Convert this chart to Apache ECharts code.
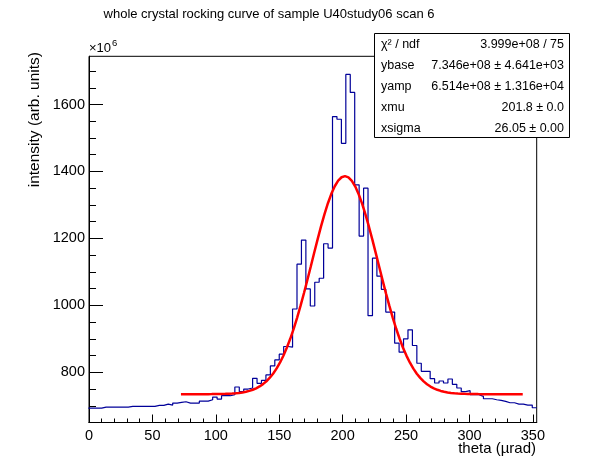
<!DOCTYPE html>
<html>
<head>
<meta charset="utf-8">
<script src="https://cdn.jsdelivr.net/npm/echarts@6/dist/echarts.min.js"></script>
<style>
  html, body { margin: 0; padding: 0; background: #fff; }
  #chart { width: 596px; height: 472px; }
</style>
</head>
<body>
<div id="chart"></div>
<script>
// histogram bins (intensity in units of 1e6), bin edges start at binStart, width binWidth
const binStart = -0.5;
const binWidth = 3.5;
const binValues = [
  693, 693, 693, 696, 696, 696, 696, 696, 696, 698,
  698, 698, 698, 698, 698, 701, 701, 705, 702, 708,
  710, 712, 708, 708, 708, 714, 714, 718, 726, 720,
  730, 730, 733, 756, 742, 750, 753, 782, 767, 776,
  792, 819, 837, 854, 877, 875, 989, 1123, 1195, 1049,
  998, 1069, 1081, 1184, 1171, 1564, 1556, 1484, 1690, 1636,
  1360, 1207, 1350, 969, 1141, 1087, 1048, 980, 980, 887,
  860, 900, 927, 880, 827, 803, 803, 781, 768, 774,
  768, 780, 764, 753, 742, 745, 733, 733, 728, 721,
  721, 718, 716, 713, 709, 709, 705, 705, 702, 702,
  694
];

// fit parameters (from stats box, intensity in 1e6)
const fitRange = [72.5, 342];
const ybase = 734.6;
const yamp = 651.4;
const xmu = 201.8;
const xsigma = 26.05;
const fitPoints = 100;

// ticks
const xMajorTicks = [0, 50, 100, 150, 200, 250, 300, 350];
const xMinorTicks = [10, 20, 30, 40, 60, 70, 80, 90, 110, 120, 130, 140, 160, 170, 180, 190,
  210, 220, 230, 240, 260, 270, 280, 290, 310, 320, 330, 340];
const yMajorTicks = [800, 1000, 1200, 1400, 1600];
const yMinorTicks = [650, 700, 750, 850, 900, 950, 1050, 1100, 1150, 1250, 1300, 1350,
  1450, 1500, 1550, 1650, 1700];

// stats box
const statNames = ['χ² / ndf', 'ybase', 'yamp', 'xmu', 'xsigma'];
const statValues = ['3.999e+08 / 75', '7.346e+08 ± 4.641e+03', '6.514e+08 ± 1.316e+04',
  '201.8 ± 0.0', '26.05 ± 0.00'];

const FONT = 'Liberation Sans, Arial, Helvetica, sans-serif';

let histData = binValues.map((v, i) => [binStart + i * binWidth, v]);
histData.push([binStart + binValues.length * binWidth, binValues[binValues.length - 1]]);

let fitData = [];
for (let k = 0; k <= fitPoints; k++) {
  let x = fitRange[0] + (fitRange[1] - fitRange[0]) * k / fitPoints;
  let t = (x - xmu) / xsigma;
  fitData.push([x, ybase + yamp * Math.exp(-0.5 * t * t)]);
}

let chart = echarts.init(document.getElementById('chart'));

const xBase = {
  type: 'value', min: 0, max: 353, position: 'bottom',
  splitLine: { show: false },
  axisLine: { show: true, onZero: false, lineStyle: { color: '#000', width: 1 } }
};
const yBase = {
  type: 'value', min: 650, max: 1744, position: 'left',
  splitLine: { show: false },
  axisLine: { show: true, onZero: false, lineStyle: { color: '#000', width: 1 } }
};

let option = {
  animation: false,
  backgroundColor: '#fff',
  grid: {
    left: 89, top: 56.3, right: 59.3, bottom: 49.5,
    show: true, borderColor: '#000', borderWidth: 1, backgroundColor: 'transparent'
  },
  xAxis: [
    Object.assign({}, xBase, {
      axisTick: { show: true, inside: true, length: 8, customValues: xMajorTicks, lineStyle: { color: '#000' } },
      axisLabel: { customValues: xMajorTicks, color: '#000', fontSize: 14.5, fontFamily: FONT, margin: 6,
        formatter: (v) => String(v) }
    }),
    Object.assign({}, xBase, {
      axisTick: { show: true, inside: true, length: 4, customValues: xMinorTicks, lineStyle: { color: '#000' } },
      axisLabel: { show: false }
    })
  ],
  yAxis: [
    Object.assign({}, yBase, {
      axisTick: { show: true, inside: true, length: 14, customValues: yMajorTicks, lineStyle: { color: '#000' } },
      axisLabel: { customValues: yMajorTicks, color: '#000', fontSize: 14.5, fontFamily: FONT, margin: 4,
        formatter: (v) => String(v) }
    }),
    Object.assign({}, yBase, {
      axisTick: { show: true, inside: true, length: 7, customValues: yMinorTicks, lineStyle: { color: '#000' } },
      axisLabel: { show: false }
    })
  ],
  series: [
    {
      type: 'line',
      data: histData,
      step: 'end',
      showSymbol: false,
      lineStyle: { color: '#000099', width: 1.2 },
      z: 2
    },
    {
      type: 'line',
      data: fitData,
      showSymbol: false,
      lineStyle: { color: '#ff0000', width: 2.5 },
      z: 3
    }
  ],
  graphic: [
    {
      type: 'text', x: 269, y: 14,
      style: { text: 'whole crystal rocking curve of sample U40study06 scan 6', font: '13px ' + FONT,
        fill: '#000', align: 'center', verticalAlign: 'middle' }
    },
    {
      type: 'text', x: 89, y: 55,
      style: { text: '×10', font: '13px ' + FONT, fill: '#000', align: 'left', verticalAlign: 'bottom' }
    },
    {
      type: 'text', x: 112, y: 48.5,
      style: { text: '6', font: '9.5px ' + FONT, fill: '#000', align: 'left', verticalAlign: 'bottom' }
    },
    {
      type: 'text', x: 35, y: 52, rotation: Math.PI / 2,
      style: { text: 'intensity (arb. units)', font: '15.5px ' + FONT, fill: '#000', align: 'right', verticalAlign: 'middle' }
    },
    {
      type: 'text', x: 536, y: 449,
      style: { text: 'theta (µrad)', font: '15px ' + FONT, fill: '#000', align: 'right', verticalAlign: 'middle' }
    },
    {
      type: 'rect',
      shape: { x: 374.5, y: 33.5, width: 195, height: 104 },
      style: { fill: '#fff', stroke: '#000', lineWidth: 1 },
      z: 10
    }
  ].concat(statNames.map((name, i) => ({
    type: 'text', x: 381, y: 45 + i * 21, z: 11,
    style: { text: name, font: '12.5px ' + FONT, fill: '#000', align: 'left', verticalAlign: 'middle' }
  }))).concat(statValues.map((val, i) => ({
    type: 'text', x: 564, y: 45 + i * 21, z: 11,
    style: { text: val, font: '12.5px ' + FONT, fill: '#000', align: 'right', verticalAlign: 'middle' }
  })))
};

chart.setOption(option);
</script>
</body>
</html>
